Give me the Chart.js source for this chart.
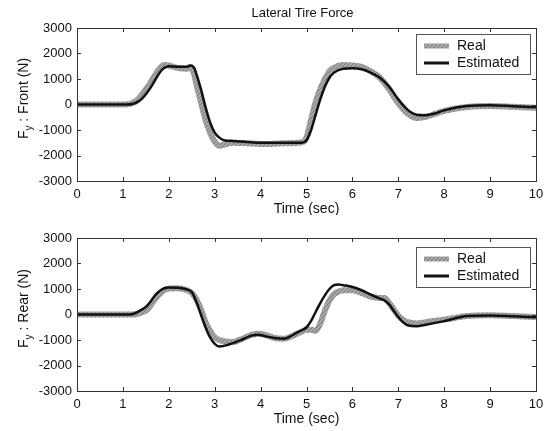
<!DOCTYPE html>
<html>
<head>
<meta charset="utf-8">
<script src="https://cdn.jsdelivr.net/npm/chart.js@4"></script>
<style>
  body { margin:0; background:#fff; }
  canvas { position:absolute; left:0; }
</style>
</head>
<body>
<canvas id="front" width="558" height="215" style="top:0"></canvas>
<canvas id="rear" width="558" height="216" style="top:215px"></canvas>
<script>
// time stamps (sec) and lateral force values (N)
const tFront = [0, 1, 1.1, 1.2, 1.3, 1.4, 1.5, 1.6, 1.7, 1.8, 1.9, 2.0, 2.2, 2.4, 2.47, 2.55, 2.6, 2.7, 2.8, 2.9, 3.0, 3.1, 3.2, 3.4, 3.7, 4.0, 4.5, 4.9, 5.0, 5.1, 5.2, 5.3, 5.4, 5.5, 5.6, 5.8, 6.0, 6.2, 6.4, 6.6, 6.8, 7.0, 7.2, 7.4, 7.6, 7.8, 8.0, 8.5, 9.0, 9.5, 10];
const frontReal = [0, 0, 10, 50, 150, 350, 600, 850, 1150, 1400, 1550, 1530, 1430, 1400, 1480, 1200, 800, 100, -600, -1100, -1450, -1620, -1580, -1500, -1520, -1550, -1520, -1480, -1300, -600, 100, 600, 1000, 1300, 1450, 1550, 1530, 1480, 1300, 1050, 600, 50, -350, -530, -480, -370, -250, -100, -60, -90, -130];
const frontEst = [0, 0, 0, 20, 80, 200, 400, 650, 950, 1250, 1430, 1500, 1480, 1480, 1530, 1450, 1200, 600, -100, -700, -1100, -1300, -1400, -1430, -1470, -1500, -1500, -1500, -1400, -1000, -400, 200, 700, 1050, 1250, 1400, 1420, 1380, 1250, 1050, 700, 200, -200, -400, -420, -350, -230, -60, -30, -70, -110];

const tRear = [0, 1, 1.1, 1.2, 1.3, 1.4, 1.5, 1.6, 1.7, 1.8, 1.9, 2.0, 2.2, 2.4, 2.5, 2.6, 2.7, 2.8, 2.9, 3.0, 3.1, 3.2, 3.4, 3.6, 3.8, 3.95, 4.1, 4.3, 4.5, 4.8, 5.0, 5.1, 5.2, 5.3, 5.4, 5.5, 5.6, 5.7, 5.8, 6.0, 6.2, 6.4, 6.6, 6.7, 6.8, 6.9, 7.0, 7.1, 7.2, 7.4, 7.6, 8.0, 8.5, 9.0, 9.5, 10];
const rearReal = [0, 0, 0, 0, 20, 80, 150, 350, 600, 800, 950, 1020, 1030, 950, 850, 600, 200, -300, -650, -900, -1000, -1050, -1080, -950, -800, -750, -800, -920, -950, -750, -600, -600, -640, -350, 150, 550, 800, 900, 950, 950, 850, 700, 650, 650, 450, 200, -50, -200, -300, -350, -300, -200, -60, -30, -60, -100];
const rearEst = [0, 0, 0, 10, 80, 180, 300, 500, 750, 920, 1030, 1060, 1050, 980, 880, 500, 0, -500, -900, -1150, -1250, -1230, -1120, -980, -830, -790, -850, -920, -950, -700, -500, -250, 100, 450, 750, 1000, 1150, 1180, 1150, 1080, 950, 780, 620, 550, 400, 150, -100, -300, -420, -460, -400, -260, -60, -40, -70, -110];

const xTicks = [0, 1, 2, 3, 4, 5, 6, 7, 8, 9, 10];
const yTicks = [-3000, -2000, -1000, 0, 1000, 2000, 3000];
const seriesNames = ['Real', 'Estimated'];

const FONT = '"Liberation Sans", Arial, sans-serif';

// speckled gray pattern for the "Real" trace (scanned look)
function grayPattern() {
  const c = document.createElement('canvas');
  c.width = 4; c.height = 4;
  const g = c.getContext('2d');
  g.fillStyle = '#a6a6a6'; g.fillRect(0, 0, 4, 4);
  g.fillStyle = '#7c7c7c';
  g.fillRect(0, 0, 1, 1); g.fillRect(2, 2, 1, 1); g.fillRect(1, 3, 1, 1); g.fillRect(3, 1, 1, 1);
  return g.createPattern(c, 'repeat');
}

const pts = (t, v) => t.map((x, i) => ({x, y: v[i]}));

function makeChart(id, t, real, est, label, opt) {
  const decor = {
    id: 'decor',
    afterDatasetsDraw(chart) {
      const {ctx, chartArea: a, scales: {x, y}} = chart;
      ctx.save();
      ctx.strokeStyle = '#333';
      ctx.lineWidth = 1;
      ctx.strokeRect(a.left + 0.5, a.top + 0.5, a.right - a.left, a.bottom - a.top);
      ctx.beginPath();
      xTicks.forEach(v => {
        const px = Math.round(x.getPixelForValue(v)) + 0.5;
        ctx.moveTo(px, a.bottom); ctx.lineTo(px, a.bottom - 4);
        ctx.moveTo(px, a.top); ctx.lineTo(px, a.top + 4);
      });
      yTicks.forEach(v => {
        const py = Math.round(y.getPixelForValue(v)) + 0.5;
        ctx.moveTo(a.left, py); ctx.lineTo(a.left + 4, py);
        ctx.moveTo(a.right, py); ctx.lineTo(a.right - 4, py);
      });
      ctx.stroke();

      // legend box
      const lx = a.right - 120, ly = a.top + opt.legendTop, lw = 114, lh = 40;
      ctx.fillStyle = '#fff';
      ctx.fillRect(lx, ly, lw, lh);
      ctx.strokeStyle = '#555';
      ctx.strokeRect(lx + 0.5, ly + 0.5, lw, lh);
      ctx.font = '14px ' + FONT;
      ctx.textBaseline = 'middle';
      ctx.textAlign = 'left';
      const rows = [ly + 12, ly + 29];
      ctx.lineWidth = 5;
      ctx.strokeStyle = grayPattern();
      ctx.beginPath(); ctx.moveTo(lx + 8, rows[0]); ctx.lineTo(lx + 33, rows[0]); ctx.stroke();
      ctx.lineWidth = 3;
      ctx.strokeStyle = '#111';
      ctx.beginPath(); ctx.moveTo(lx + 8, rows[1]); ctx.lineTo(lx + 33, rows[1]); ctx.stroke();
      ctx.fillStyle = '#111';
      ctx.fillText(seriesNames[0], lx + 41, rows[0]);
      ctx.fillText(seriesNames[1], lx + 41, rows[1]);

      // axis titles
      const cx = (a.left + a.right) / 2;
      ctx.textAlign = 'center';
      ctx.font = '14px ' + FONT;
      ctx.fillText('Time (sec)', cx, a.bottom + opt.xTitleOff);
      if (opt.title) {
        ctx.font = '13px ' + FONT;
        ctx.fillText(opt.title, cx - 4, a.top - 15);
      }

      // rotated y label with subscript
      ctx.translate(24, (a.top + a.bottom) / 2 - 6);
      ctx.rotate(-Math.PI / 2);
      ctx.textAlign = 'left';
      ctx.font = '14px ' + FONT;
      const wF = ctx.measureText('F').width;
      const rest = ' : ' + label + ' (N)';
      const wR = ctx.measureText(rest).width;
      ctx.font = '10px ' + FONT;
      const wy = ctx.measureText('y').width;
      let sx = -(wF + wy + wR) / 2;
      ctx.font = '14px ' + FONT;
      ctx.fillText('F', sx, 0);
      ctx.font = '10px ' + FONT;
      ctx.fillText('y', sx + wF, 5);
      ctx.font = '14px ' + FONT;
      ctx.fillText(rest, sx + wF + wy, 0);
      ctx.restore();
    }
  };

  return new Chart(document.getElementById(id), {
    type: 'line',
    data: {
      datasets: [
        {label: seriesNames[0], data: pts(t, real), borderColor: grayPattern(), borderWidth: 6,
         pointRadius: 0, cubicInterpolationMode: 'monotone', order: 2},
        {label: seriesNames[1], data: pts(t, est), borderColor: '#111', borderWidth: 2.5,
         pointRadius: 0, cubicInterpolationMode: 'monotone', order: 1}
      ]
    },
    options: {
      responsive: false,
      animation: false,
      layout: {padding: {top: opt.padTop, right: 22, bottom: 0, left: 0}},
      plugins: {legend: {display: false}, tooltip: {enabled: false}},
      scales: {
        x: {
          type: 'linear', min: 0, max: 10,
          afterBuildTicks: s => { s.ticks = xTicks.map(v => ({value: v})); },
          ticks: {font: {size: 13, family: FONT}, color: '#111', padding: 6, maxRotation: 0,
                  callback: v => String(v)},
          grid: {display: false, drawTicks: false},
          border: {display: false},
          afterFit: s => { s.height = opt.xHeight; }
        },
        y: {
          min: -3000, max: 3000,
          afterBuildTicks: s => { s.ticks = yTicks.map(v => ({value: v})); },
          ticks: {font: {size: 13, family: FONT}, color: '#111', padding: 5,
                  callback: v => String(v)},
          grid: {display: false, drawTicks: false},
          border: {display: false},
          afterFit: s => { s.width = 77; }
        }
      }
    },
    plugins: [decor]
  });
}

makeChart('front', tFront, frontReal, frontEst, 'Front',
  {padTop: 28, xHeight: 34, legendTop: 6, xTitleOff: 28, title: 'Lateral Tire Force'});
makeChart('rear', tRear, rearReal, rearEst, 'Rear',
  {padTop: 23, xHeight: 40, legendTop: 9, xTitleOff: 28});
</script>
</body>
</html>
